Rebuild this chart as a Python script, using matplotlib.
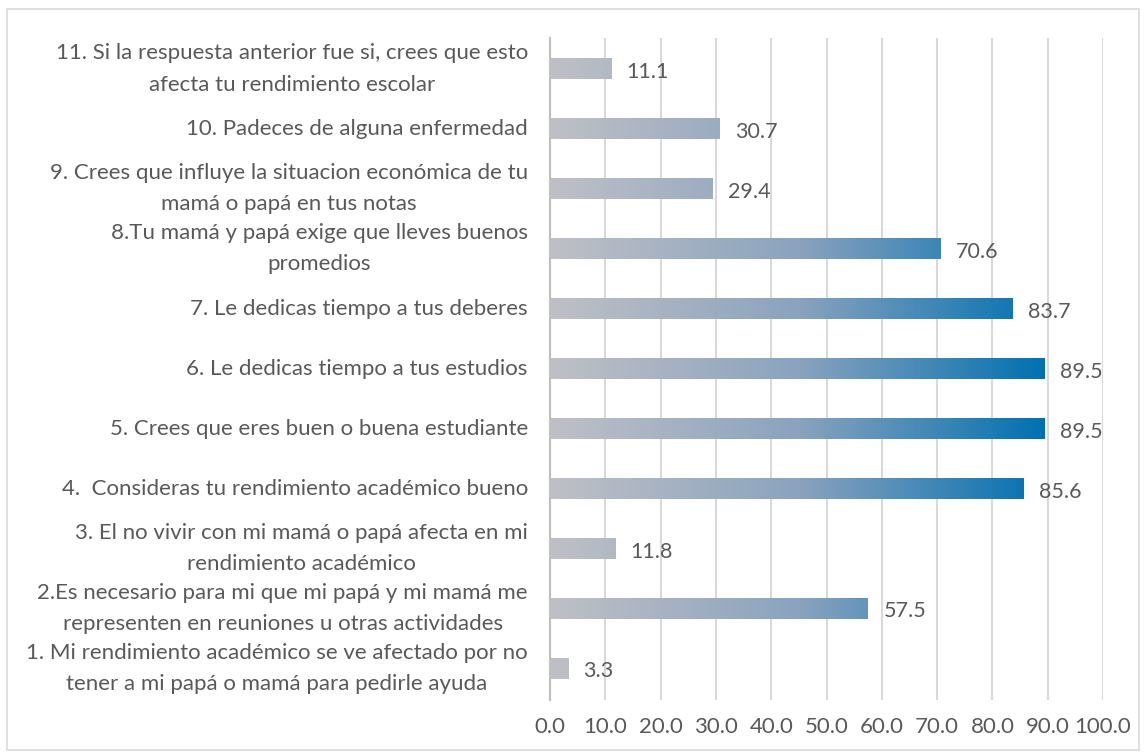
import numpy as np
import matplotlib.pyplot as plt
from matplotlib.colors import LinearSegmentedColormap, Normalize

# data, bottom to top
labels = [
    "1. Mi rendimiento académico se ve afectado por no\ntener a mi papá o mamá para pedirle ayuda",
    "2.Es necesario para mi que mi papá y mi mamá me\nrepresenten en reuniones u otras actividades",
    "3. El no vivir con mi mamá o papá afecta en mi\nrendimiento académico",
    "4.  Consideras tu rendimiento académico bueno",
    "5. Crees que eres buen o buena estudiante",
    "6. Le dedicas tiempo a tus estudios",
    "7. Le dedicas tiempo a tus deberes",
    "8.Tu mamá y papá exige que lleves buenos\npromedios",
    "9. Crees que influye la situacion económica de tu\nmamá o papá en tus notas",
    "10. Padeces de alguna enfermedad",
    "11. Si la respuesta anterior fue si, crees que esto\nafecta tu rendimiento escolar",
]
values = [3.3, 57.5, 11.8, 85.6, 89.5, 89.5, 83.7, 70.6, 29.4, 30.7, 11.1]
xticks = [0, 10, 20, 30, 40, 50, 60, 70, 80, 90, 100]

txt = '#595959'
grid = '#D9D9D9'
plt.rcParams['font.family'] = ['Lato', 'DejaVu Sans']

fig = plt.figure(figsize=(11.46, 7.55), dpi=100)
ax = fig.add_axes([0.48, 0.073, 0.4825, 0.877])

y = np.arange(len(values))
bars = ax.barh(y, values, height=0.35, color='none', zorder=3)

# gray -> blue gradient along the value axis, clipped to each bar
cmap = LinearSegmentedColormap.from_list('gb', ['#BFC0C5', '#8AA3BE', '#0070B0'])
grad = np.linspace(0, 100, 500).reshape(1, -1)
for b in bars:
    im = ax.imshow(grad, cmap=cmap, norm=Normalize(0, 90), aspect='auto',
                   extent=(0, 100, b.get_y(), b.get_y() + b.get_height()),
                   zorder=3, interpolation='bilinear')
    im.set_clip_path(b)

for yi, v in zip(y, values):
    ax.annotate("{:.1f}".format(v), (v, yi), xytext=(11, -2), textcoords='offset points',
                ha='left', va='center', fontsize=15.5, color=txt, zorder=4)

ax.set_xlim(0, 100)
ax.set_ylim(-0.52, len(values) - 0.48)
ax.set_xticks(xticks)
ax.set_xticklabels(["{:.1f}".format(t) for t in xticks])
ax.set_yticks(y)
ax.set_yticklabels(labels, multialignment='center', linespacing=1.7, va='center')
ax.tick_params(axis='both', length=0, labelsize=16, labelcolor=txt)
ax.tick_params(axis='y', pad=16)
ax.tick_params(axis='x', pad=12)
ax.xaxis.grid(True, color=grid, linewidth=1.5, zorder=0)
ax.set_axisbelow(True)
for s in ['top', 'right', 'bottom']:
    ax.spines[s].set_visible(False)
ax.spines['left'].set_color('#BFBFBF')
ax.spines['left'].set_linewidth(1.5)

fig.patches.append(plt.Rectangle((0.006, 0.006), 0.988, 0.982, transform=fig.transFigure,
                                 fill=False, edgecolor=grid, linewidth=1.2))

plt.savefig("out.png", dpi=100)
plt.close()
